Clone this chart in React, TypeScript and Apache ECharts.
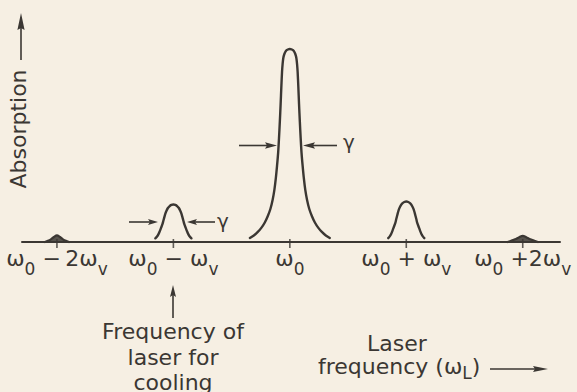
import { useEffect, useRef } from 'react';
import * as echarts from 'echarts';

const INK = '#3b3733';
const PAPER = '#f6efe3';
const FONT = '"DejaVu Sans", "Liberation Sans", sans-serif';

// Absorption lines sit at ω0 + n·ωv, n = -2 … 2 (x axis in units of ωv)
const lineOrders = [-2, -1, 0, 1, 2];
const tickLabels = [
  '{w|ω}{s|0}{w| −\u20092ω}{s|v}',
  '{w|ω}{s|0}{w| − ω}{s|v}',
  '{w|ω}{s|0}',
  '{w|ω}{s|0}{w| + ω}{s|v}',
  '{w|ω}{s|0}{w| +2ω}{s|v}',
];

// Half-profiles of each line: detuning from line centre (ωv units) and absorption (arb. units)
const carrierOffsets = [
  0, 0.017, 0.034, 0.047, 0.056, 0.062, 0.067, 0.073, 0.079, 0.086, 0.093, 0.1,
  0.11, 0.12, 0.133, 0.148, 0.167, 0.189, 0.215, 0.245, 0.275, 0.309, 0.343,
];
const carrierHeights = [
  100, 99.7, 99.0, 97.4, 95.3, 92.2, 88.1, 80.3, 71.5, 62.2, 53.9, 46.6,
  39.4, 33.2, 26.9, 21.8, 17.1, 13.5, 10.1, 7.3, 5.2, 3.4, 2.1,
];

const firstOffsets = [0, 0.017, 0.034, 0.047, 0.06, 0.069, 0.077, 0.086, 0.094, 0.106, 0.118, 0.13, 0.142, 0.155];
const redFirstHeights = [19.4, 19.2, 18.5, 17.6, 16.1, 14.7, 13.0, 11.0, 9.2, 7.3, 5.4, 3.8, 2.7, 1.9];
const blueFirstHeights = [21.0, 20.7, 20.0, 19.0, 17.4, 15.8, 14.0, 11.9, 9.9, 7.9, 5.9, 4.1, 2.9, 2.0];

const redSecondOffsets = [0, 0.026, 0.052, 0.077, 0.103];
const redSecondHeights = [3.4, 2.6, 1.4, 0.6, 0];
const blueSecondOffsets = [0, 0.03, 0.065, 0.1, 0.13];
const blueSecondHeights = [3.2, 2.5, 1.4, 0.6, 0];

// Build a symmetric line from a half-profile around its centre
function profile(center: number, offsets: number[], heights: number[]) {
  const left = offsets.map((o, i) => [center - o, heights[i]]).reverse();
  const right = offsets.slice(1).map((o, i) => [center + o, heights[i + 1]]);
  return [...left, ...right];
}

// Straight arrow with a slim filled head at (x2, y2)
function arrow(x1: number, y1: number, x2: number, y2: number, headLen: number, halfW: number) {
  const dx = x2 - x1;
  const dy = y2 - y1;
  const len = Math.hypot(dx, dy);
  const ux = dx / len;
  const uy = dy / len;
  const bx = x2 - ux * headLen;
  const by = y2 - uy * headLen;
  return [
    {
      type: 'line',
      shape: { x1, y1, x2: bx + ux * 2, y2: by + uy * 2 },
      style: { stroke: INK, lineWidth: 1.6 },
      silent: true,
    },
    {
      type: 'polygon',
      shape: {
        points: [
          [x2, y2],
          [bx - uy * halfW, by + ux * halfW],
          [bx + ux * 2, by + uy * 2],
          [bx + uy * halfW, by - ux * halfW],
        ],
      },
      style: { fill: INK },
      silent: true,
    },
  ];
}

const lineSeries = (data: number[][], width: number, filled = false) => ({
  type: 'line',
  data,
  smooth: 0.3,
  showSymbol: false,
  symbol: 'none',
  silent: true,
  clip: false,
  lineStyle: { color: INK, width, cap: 'round', join: 'round' },
  areaStyle: filled ? { color: INK, opacity: 0.85 } : undefined,
  z: 3,
});

export default function App() {
  const ref = useRef<HTMLDivElement>(null);

  useEffect(() => {
    if (!ref.current) return;
    const chart = echarts.init(ref.current, null, { renderer: 'svg' });

    const textStyle = (text: string, size = 22) => ({
      text,
      fill: INK,
      fontSize: size,
      fontFamily: FONT,
    });

    chart.setOption({
      animation: false,
      backgroundColor: PAPER,
      grid: { left: 22, right: 17, top: 20, bottom: 150, containLabel: false, outerBoundsMode: 'none' },
      xAxis: {
        type: 'value',
        min: -2.3,
        max: 2.32,
        splitLine: { show: false },
        axisTick: { show: false },
        axisLine: { show: true, lineStyle: { color: INK, width: 2 } },
        axisLabel: {
          customValues: lineOrders,
          margin: 5,
          color: INK,
          formatter: (v: number) => tickLabels[lineOrders.indexOf(Math.round(v))] ?? '',
          rich: {
            w: { fontSize: 22, fontFamily: FONT, color: INK, lineHeight: 24, verticalAlign: 'top' },
            s: { fontSize: 17, fontFamily: FONT, color: INK, verticalAlign: 'top', padding: [13, 0, 0, 0] },
          },
        },
      },
      yAxis: { type: 'value', min: 0, max: 115, show: false },
      series: [
        lineSeries(profile(-2, redSecondOffsets, redSecondHeights), 2.2, true),
        lineSeries(profile(-1, firstOffsets, redFirstHeights), 2.4),
        lineSeries(profile(0, carrierOffsets, carrierHeights), 2.4),
        lineSeries(profile(1, firstOffsets, blueFirstHeights), 2.4),
        lineSeries(profile(2, blueSecondOffsets, blueSecondHeights), 2.2, true),
        {
          type: 'scatter',
          data: lineOrders.map((n) => [n, 0]),
          symbol: 'rect',
          symbolSize: [1.6, 9],
          symbolOffset: [0, 1.5],
          itemStyle: { color: INK },
          clip: false,
          silent: true,
          z: 4,
        },
      ],
      graphic: [
        // y-axis caption with arrow
        {
          type: 'text',
          x: 18,
          y: 129,
          rotation: Math.PI / 2,
          style: { ...textStyle('Absorption'), textAlign: 'center', textVerticalAlign: 'middle' },
        },
        ...arrow(21, 60, 21, 13, 17, 3.6),
        // linewidth markers on the carrier
        ...arrow(239, 145.5, 277, 145.5, 12, 3.2),
        ...arrow(337, 145.5, 303, 145.5, 12, 3.2),
        {
          type: 'text',
          x: 343,
          y: 141.5,
          style: { ...textStyle('γ', 20), textAlign: 'left', textVerticalAlign: 'middle' },
        },
        // linewidth markers on the cooling sideband
        ...arrow(129, 222, 158, 222, 10, 3),
        ...arrow(215, 222, 187, 222, 10, 3),
        {
          type: 'text',
          x: 217,
          y: 221,
          style: { ...textStyle('γ', 20), textAlign: 'left', textVerticalAlign: 'middle' },
        },
        // cooling laser annotation
        ...arrow(173, 318, 173, 285, 12, 3),
        {
          type: 'text',
          x: 173,
          y: 319,
          style: {
            ...textStyle('Frequency of\nlaser for\ncooling'),
            lineHeight: 25.5,
            textAlign: 'center',
            textVerticalAlign: 'top',
          },
        },
        // x-axis caption with arrow
        {
          type: 'text',
          x: 397,
          y: 343.5,
          style: { ...textStyle('Laser'), textAlign: 'center', textVerticalAlign: 'middle' },
        },
        {
          type: 'text',
          x: 318,
          y: 366.5,
          style: {
            text: '{w|frequency (ω}{s|L}{w|)}',
            textAlign: 'left',
            textVerticalAlign: 'middle',
            rich: {
              w: { fontSize: 22, fontFamily: FONT, fill: INK, color: INK },
              s: { fontSize: 17, fontFamily: FONT, fill: INK, color: INK, padding: [12, 0, 0, 0] },
            },
          },
        },
        ...arrow(490, 369, 548, 369, 15, 3),
      ],
    });

    return () => chart.dispose();
  }, []);

  return (
    <div
      ref={ref}
      style={{ position: 'fixed', left: 0, top: 0, width: 577, height: 392, background: PAPER }}
    />
  );
}
